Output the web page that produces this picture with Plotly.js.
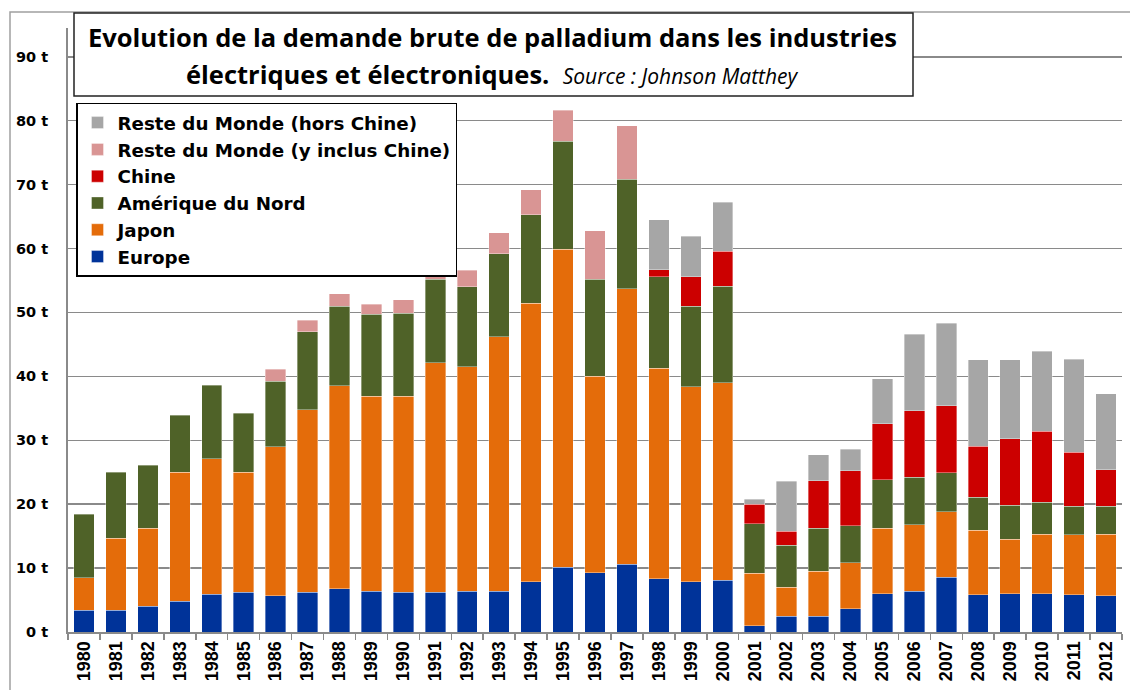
<!DOCTYPE html>
<html>
<head>
<meta charset="utf-8">
<script src="https://cdn.plot.ly/plotly-3.0.1.min.js"></script>
<style>html,body{margin:0;padding:0;background:#fff;}#chart{width:1130px;height:690px;}</style>
</head>
<body>
<div id="chart"></div>
<script>
const years = ["1980","1981","1982","1983","1984","1985","1986","1987","1988","1989","1990","1991","1992","1993","1994","1995","1996","1997","1998","1999","2000","2001","2002","2003","2004","2005","2006","2007","2008","2009","2010","2011","2012"];
const europe = [3.4,3.4,4.0,4.8,5.9,6.2,5.7,6.2,6.8,6.4,6.2,6.2,6.4,6.4,7.9,10.1,9.3,10.6,8.3,7.9,8.1,1.0,2.5,2.5,3.6,6.0,6.4,8.6,5.8,6.0,6.0,5.8,5.7];
const japon = [5.1,11.3,12.2,20.2,21.2,18.8,23.3,28.6,31.7,30.5,30.7,35.9,35.1,39.8,43.5,49.8,30.7,43.1,33.0,30.5,30.9,8.2,4.5,7.0,7.2,10.2,10.4,10.2,10.1,8.5,9.3,9.4,9.6];
const ameriqueNord = [9.9,10.3,9.9,8.9,11.5,9.2,10.2,12.2,12.5,12.8,13.0,13.1,12.5,13.0,13.9,16.9,15.2,17.1,14.3,12.6,15.1,7.7,6.6,6.7,5.8,7.6,7.4,6.1,5.2,5.3,5.0,4.5,4.4];
const chine = [null,null,null,null,null,null,null,null,null,null,null,null,null,null,null,null,null,null,1.1,4.6,5.5,3.1,2.2,7.5,8.6,8.8,10.4,10.5,8.0,10.4,11.1,8.4,5.7];
const resteInclChine = [null,null,null,null,null,null,1.9,1.8,1.9,1.6,2.1,2.3,2.6,3.3,3.9,4.8,7.6,8.4,null,null,null,null,null,null,null,null,null,null,null,null,null,null,null];
const resteHorsChine = [null,null,null,null,null,null,null,null,null,null,null,null,null,null,null,null,null,null,7.8,6.3,7.6,0.8,7.8,4.0,3.4,7.0,12.0,12.9,13.5,12.4,12.5,14.6,11.9];

const W = 1130, H = 690;
const M = {l: 68, r: 8, t: 28, b: 58};
const PW = W - M.l - M.r, PH = H - M.t - M.b;
const px = x => (x - M.l) / PW;
const py = y => (H - M.b - y) / PH;

const lineCol = 'rgba(255,255,255,0.45)';
function bar(name, y, color) {
  return {type: 'bar', name: name, x: years, y: y,
    marker: {color: color, line: {color: lineCol, width: 0.8}},
    hoverinfo: 'name+y'};
}
const data = [
  bar('Europe', europe, '#003399'),
  bar('Japon', japon, '#E46C0A'),
  bar('Amérique du Nord', ameriqueNord, '#4F6228'),
  bar('Chine', chine, '#CC0000'),
  bar('Reste du Monde (y inclus Chine)', resteInclChine, '#D99594'),
  bar('Reste du Monde (hors Chine)', resteHorsChine, '#A6A6A6')
];

const grey = '#8a8a8a';
const layout = {
  width: W, height: H,
  margin: M,
  paper_bgcolor: '#fff', plot_bgcolor: '#fff',
  barmode: 'stack', bargap: 0.36,
  font: {family: 'Liberation Sans, Arial, sans-serif', color: '#000'},
  xaxis: {
    type: 'category', showline: true, linecolor: grey, linewidth: 2,
    ticks: 'outside', tickson: 'boundaries', ticklen: 6, tickcolor: grey, tickwidth: 1.5,
    tickangle: -90, tickfont: {family: 'Liberation Sans, Arial', size: 18, color: '#000', weight: 'bold'},
    showgrid: false, fixedrange: true
  },
  yaxis: {
    range: [0, 94.5], dtick: 10, tick0: 0, ticksuffix: ' t',
    showline: true, linecolor: grey, linewidth: 2,
    showgrid: true, gridcolor: grey, gridwidth: 1.5, zeroline: false,
    ticks: '', ticklabelstandoff: 15,
    tickfont: {family: 'DejaVu Sans', size: 14.5, color: '#000', weight: 'bold'},
    fixedrange: true
  },
  legend: {
    x: px(76), y: py(102.7), xanchor: 'left', yanchor: 'top',
    traceorder: 'reversed', bgcolor: '#fff', bordercolor: '#000', borderwidth: 1.5,
    font: {family: 'DejaVu Sans', size: 18.3, color: '#000', weight: 'bold'},
    itemwidth: 30, itemclick: false, itemdoubleclick: false
  },
  shapes: [
    {type: 'rect', xref: 'paper', yref: 'paper', layer: 'below',
     x0: px(10), x1: px(1140), y0: py(700), y1: py(12),
     line: {color: '#a0a0a0', width: 1.5}, fillcolor: 'rgba(0,0,0,0)'},
    {type: 'rect', xref: 'paper', yref: 'paper', layer: 'above',
     x0: px(74), x1: px(913), y0: py(96), y1: py(13),
     line: {color: '#222', width: 1.5}, fillcolor: '#fff'}
  ],
  annotations: [
    {xref: 'paper', yref: 'paper', x: px(492), y: py(37), xanchor: 'center', yanchor: 'middle',
     showarrow: false, text: '<b>Evolution de la demande brute de palladium dans les industries</b>',
     font: {family: 'Open Sans', size: 25.5, color: '#000'}},
    {xref: 'paper', yref: 'paper', x: px(492), y: py(74), xanchor: 'center', yanchor: 'middle',
     showarrow: false,
     text: '<b>électriques et électroniques.</b>  <i><span style="font-size:21px">Source : Johnson Matthey</span></i>',
     font: {family: 'Open Sans', size: 25.5, color: '#000'}}
  ]
};

Plotly.newPlot('chart', data, layout, {displayModeBar: false, staticPlot: true});
</script>
</body>
</html>
